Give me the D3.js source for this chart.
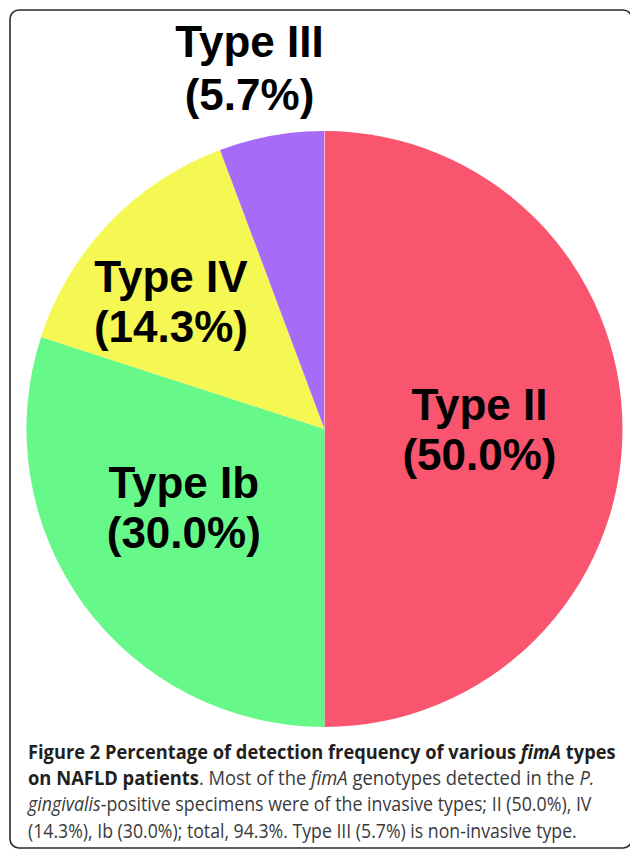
<!DOCTYPE html>
<html>
<head>
<meta charset="utf-8">
<script src="https://cdn.jsdelivr.net/npm/d3@7"></script>
<style>
	body { margin: 0; background: #fff; }
	svg { display: block; }
</style>
</head>
<body>
<div id="graphic-wrapper"></div>
<script>
// data (clockwise from 12 o'clock)
const categories = ["Type II", "Type Ib", "Type IV", "Type III"]
const percents = [50.0, 30.0, 14.3, 5.7]
const sliceColors = ["#F9556E", "#66F98A", "#F5F752", "#A66CF7"]

const captionLines = [
	[{t: "Figure 2 Percentage of detection frequency of various ", s: "b"}, {t: "fimA", s: "bi"}, {t: " types", s: "b"}],
	[{t: "on NAFLD patients", s: "b"}, {t: ". Most of the ", s: "r"}, {t: "fimA", s: "i"}, {t: " genotypes detected in the ", s: "r"}, {t: "P.", s: "i"}],
	[{t: "gingivalis", s: "i"}, {t: "-positive specimens were of the invasive types; II (50.0%), IV", s: "r"}],
	[{t: "(14.3%), Ib (30.0%); total, 94.3%. Type III (5.7%) is non-invasive type.", s: "r"}],
]
const captionWidths = [588, 567, 564, 549]

const WIDTH = 630
const HEIGHT = 849

const DIMENSIONS = {
	cx: 324.5,
	cy: 429,
	radius: 298,
}

// where each label sits: fraction of radius and a small turn off the mid angle (degrees)
const labelPlacement = {
	"Type II": {r: 0.52, da: 0},
	"Type Ib": {r: 0.54, da: 7},
	"Type IV": {r: 0.67, da: -4},
	"Type III": {r: 1.235, da: -1.5},
}

const svg = d3.select("#graphic-wrapper")
	.append("svg")
		.attr("width", WIDTH)
		.attr("height", HEIGHT)

// frame
svg.append("rect")
	.attr("x", 10)
	.attr("y", 10)
	.attr("width", 622)
	.attr("height", 838)
	.attr("rx", 9)
	.attr("fill", "none")
	.attr("stroke", "#2b2b2b")
	.attr("stroke-width", 1.6)

const pieData = categories.map((c, i) => ({category: c, value: percents[i], color: sliceColors[i]}))

const pie = d3.pie()
	.value(d => d.value)
	.sort(null)

const arcs = pie(pieData)

const arcGenerator = d3.arc()
	.innerRadius(0)
	.outerRadius(DIMENSIONS.radius)

const bounds = svg.append("g")
	.attr("transform", `translate(${DIMENSIONS.cx}, ${DIMENSIONS.cy})`)

bounds.selectAll("path.slice")
	.data(arcs)
	.join("path")
		.attr("class", "slice")
		.attr("d", arcGenerator)
		.attr("fill", d => d.data.color)

// faint seam at 12 o'clock
bounds.append("line")
	.attr("x1", 0).attr("y1", 0)
	.attr("x2", 0).attr("y2", -DIMENSIONS.radius)
	.attr("stroke", "#f4b6d8")
	.attr("stroke-width", 1)

const labels = bounds.selectAll("g.label")
	.data(arcs)
	.join("g")
		.attr("class", "label")
		.attr("transform", d => {
			const p = labelPlacement[d.data.category]
			const a = (d.startAngle + d.endAngle) / 2 + p.da * Math.PI / 180
			const r = p.r * DIMENSIONS.radius
			return `translate(${r * Math.sin(a)}, ${-r * Math.cos(a)})`
		})

labels.append("text")
	.attr("text-anchor", "middle")
	.attr("y", d => d.data.category === "Type III" ? -12 : -9)
	.style("font-family", "'Liberation Sans', Arial, sans-serif")
	.style("font-weight", "bold")
	.style("font-size", "44px")
	.attr("fill", "#000")
	.text(d => d.data.category)

labels.append("text")
	.attr("text-anchor", "middle")
	.attr("y", 41)
	.style("font-family", "'Liberation Sans', Arial, sans-serif")
	.style("font-weight", "bold")
	.style("font-size", "44px")
	.attr("fill", "#000")
	.text(d => `(${d3.format(".1f")(d.data.value)}%)`)

// caption: each line squeezed horizontally to the width it has in the figure
const caption = svg.append("g")
	.attr("transform", "translate(28, 759)")

captionLines.forEach((line, i) => {
	const row = caption.append("g")
		.attr("transform", `translate(0, ${i * 26.2})`)
	const text = row.append("text")
		.style("font-family", "'Open Sans', 'Noto Sans', sans-serif")
		.style("font-size", "20px")
	line.forEach(seg => {
		text.append("tspan")
			.text(seg.t)
			.attr("fill", seg.s.includes("b") ? "#231f20" : "#3a3a3a")
			.style("font-weight", seg.s.includes("b") ? 700 : 400)
			.style("font-style", seg.s.includes("i") ? "italic" : "normal")
	})
	const natural = text.node().getComputedTextLength()
	text.attr("transform", `scale(${captionWidths[i] / natural}, 1)`)
})
</script>
</body>
</html>
